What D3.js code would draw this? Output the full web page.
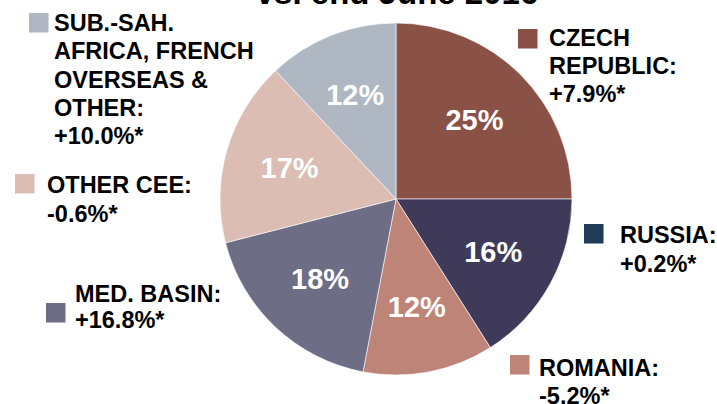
<!DOCTYPE html>
<html>
<head>
<meta charset="utf-8">
<script src="https://cdn.jsdelivr.net/npm/d3@7"></script>
<style>
  html, body { margin: 0; padding: 0; background: #ffffff; }
  svg { display: block; font-family: "Liberation Sans", Arial, sans-serif; }
</style>
</head>
<body>
<svg id="chart" width="717" height="404"></svg>
<script>
// Regional breakdown, clockwise from 12 o'clock
const regions = ["CZECH REPUBLIC", "RUSSIA", "ROMANIA", "MED. BASIN", "OTHER CEE", "SUB.-SAH. AFRICA, FRENCH OVERSEAS & OTHER"];
const shares = [25, 16, 12, 18, 17, 12];
const changes = ["+7.9%*", "+0.2%*", "-5.2%*", "+16.8%*", "-0.6%*", "+10.0%*"];
const sliceColors = ["#8a5147", "#3f3a5a", "#bd8477", "#6d6d85", "#dbbdb3", "#aeb7c2"];
const keyColors = ["#8a5147", "#1f3b57", "#bd8477", "#6d6d85", "#dbbdb3", "#aeb7c2"];
// Legend text, one entry per region, split into its printed lines
const legendLines = [
  ["CZECH", "REPUBLIC:", "+7.9%*"],
  ["RUSSIA:", "+0.2%*"],
  ["ROMANIA:", "-5.2%*"],
  ["MED. BASIN:", "+16.8%*"],
  ["OTHER CEE:", "-0.6%*"],
  ["SUB.-SAH.", "AFRICA, FRENCH", "OVERSEAS &", "OTHER:", "+10.0%*"]
];
const titleText = "vs. end June 2016";

const svg = d3.select("#chart");
const cx = 396, cy = 199, R = 176;

// Title (only its last line sits at the top edge)
svg.append("text")
  .attr("x", 397).attr("y", 4)
  .attr("text-anchor", "middle")
  .attr("font-size", 33).attr("font-weight", "bold")
  .attr("fill", "#000")
  .text(titleText);

const pie = d3.pie().sort(null).value(d => d)(shares);
const arc = d3.arc().innerRadius(0).outerRadius(R);
const labelArc = d3.arc().innerRadius(R * 0.63).outerRadius(R * 0.63);

const g = svg.append("g").attr("transform", `translate(${cx},${cy})`);
g.selectAll("path").data(pie).join("path")
  .attr("d", arc)
  .attr("fill", (d, i) => sliceColors[i])
  .attr("stroke", "#ffffff").attr("stroke-width", 0.6);

g.selectAll("text.pct").data(pie).join("text")
  .attr("class", "pct")
  .attr("transform", d => `translate(${labelArc.centroid(d)})`)
  .attr("text-anchor", "middle").attr("dy", "0.33em")
  .attr("font-size", 29).attr("font-weight", "bold")
  .attr("fill", "#ffffff")
  .text(d => d.data + "%");

// Legend blocks: [square x, square y, text x, first baseline, line step]
const legendPos = [
  [518, 29, 549, 46, 28],
  [584, 224, 620, 243, 29],
  [510, 355, 539, 376, 28],
  [46, 303, 75, 302, 26],
  [15, 174, 47, 193, 29],
  [29, 13, 54, 31, 28.3]
];
legendLines.forEach((lines, i) => {
  const [sx, sy, tx, ty, step] = legendPos[i];
  svg.append("rect").attr("x", sx).attr("y", sy).attr("width", 19.5).attr("height", 19.5)
    .attr("fill", keyColors[i]);
  const t = svg.append("text").attr("font-size", 23.5).attr("font-weight", "bold").attr("fill", "#000");
  lines.forEach((ln, j) => {
    t.append("tspan").attr("x", tx).attr("y", ty + j * step).text(ln);
  });
});
</script>
</body>
</html>
